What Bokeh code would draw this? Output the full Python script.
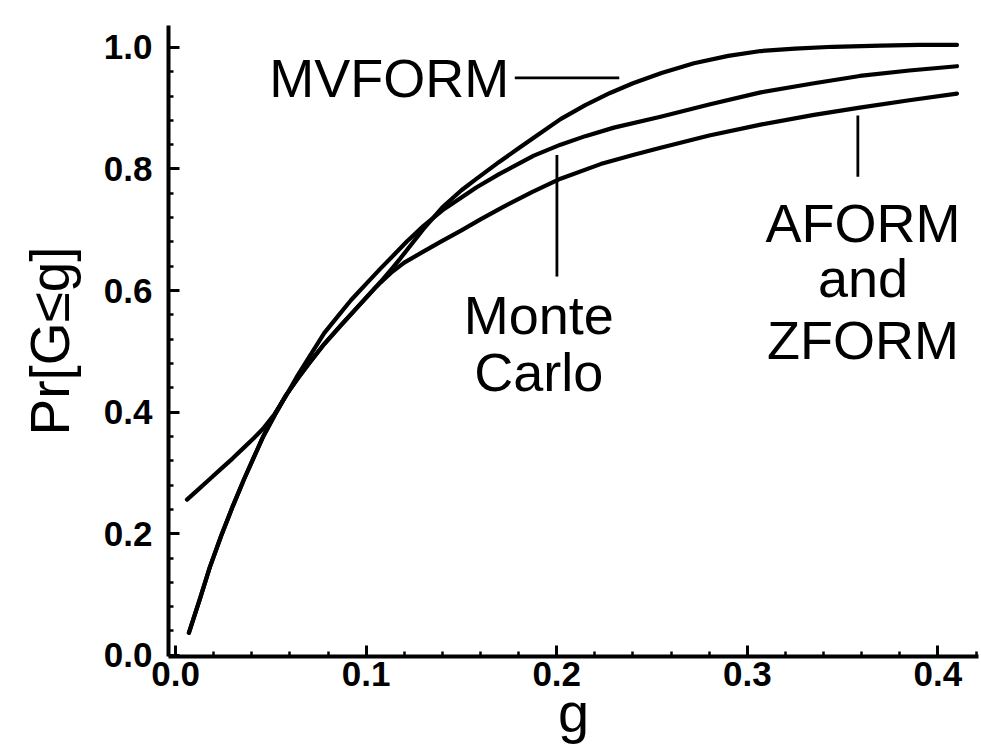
from bokeh.plotting import figure
from bokeh.models import FixedTicker, Range1d, Label, NumeralTickFormatter
from bokeh.embed import file_html
from bokeh.resources import INLINE

# ---- data ----
g_mvform = [0.007, 0.013, 0.018, 0.024, 0.030, 0.036, 0.041, 0.046, 0.052, 0.058,
            0.064, 0.070, 0.078, 0.0865, 0.095, 0.104, 0.1075, 0.113, 0.118, 0.124,
            0.130, 0.140, 0.150, 0.158, 0.170, 0.180, 0.190, 0.202, 0.215, 0.228,
            0.240, 0.255, 0.272, 0.290, 0.307, 0.325, 0.345, 0.370, 0.390, 0.410]
pr_mvform = [0.037, 0.095, 0.145, 0.197, 0.245, 0.290, 0.325, 0.360, 0.395, 0.428,
             0.455, 0.480, 0.512, 0.542, 0.571, 0.602, 0.614, 0.634, 0.653, 0.677,
             0.701, 0.737, 0.765, 0.784, 0.812, 0.834, 0.856, 0.882, 0.905, 0.925,
             0.941, 0.958, 0.974, 0.986, 0.994, 0.998, 1.001, 1.003, 1.004, 1.004]

g_mc = [0.006, 0.012, 0.018, 0.024, 0.030, 0.036, 0.041, 0.046, 0.052, 0.058,
        0.064, 0.070, 0.078, 0.085, 0.092, 0.100, 0.1075, 0.115, 0.1215, 0.130,
        0.140, 0.150, 0.158, 0.170, 0.188, 0.202, 0.215, 0.230, 0.2545, 0.280,
        0.307, 0.335, 0.359, 0.385, 0.410]
pr_mc = [0.256, 0.273, 0.290, 0.307, 0.324, 0.342, 0.357, 0.373, 0.397, 0.427,
         0.460, 0.490, 0.530, 0.557, 0.584, 0.611, 0.636, 0.660, 0.681, 0.706,
         0.732, 0.753, 0.770, 0.792, 0.822, 0.840, 0.854, 0.868, 0.886, 0.906,
         0.926, 0.941, 0.953, 0.962, 0.969]

g_aform = [0.007, 0.013, 0.018, 0.024, 0.030, 0.036, 0.041, 0.046, 0.052, 0.058,
           0.064, 0.070, 0.078, 0.0865, 0.095, 0.104, 0.1075, 0.113, 0.120, 0.130,
           0.139, 0.150, 0.160, 0.171, 0.187, 0.202, 0.223, 0.240, 0.2545, 0.280,
           0.307, 0.335, 0.359, 0.385, 0.410]
pr_aform = [0.037, 0.095, 0.145, 0.197, 0.245, 0.290, 0.325, 0.360, 0.395, 0.428,
            0.455, 0.480, 0.512, 0.542, 0.571, 0.602, 0.613, 0.629, 0.646, 0.664,
            0.680, 0.699, 0.717, 0.736, 0.762, 0.784, 0.808, 0.823, 0.835, 0.855,
            0.873, 0.889, 0.901, 0.913, 0.924]

x_ticks = [0.0, 0.1, 0.2, 0.3, 0.4]
x_minor = [0.02, 0.04, 0.06, 0.08, 0.12, 0.14, 0.16, 0.18, 0.22, 0.24, 0.26, 0.28,
           0.32, 0.34, 0.36, 0.38, 0.42]
y_ticks = [0.0, 0.2, 0.4, 0.6, 0.8, 1.0]
y_minor = [0.04, 0.08, 0.12, 0.16, 0.24, 0.28, 0.32, 0.36, 0.44, 0.48, 0.52, 0.56,
           0.64, 0.68, 0.72, 0.76, 0.84, 0.88, 0.92, 0.96]

# annotation texts and pointer positions (data units)
label_texts = ["MVFORM", "Monte", "Carlo", "AFORM", "and", "ZFORM"]
label_x = [0.1751, 0.1906, 0.1906, 0.3607, 0.3607, 0.3607]
label_y = [0.949, 0.560, 0.466, 0.711, 0.621, 0.519]
label_align = ["right", "center", "center", "center", "center", "center"]
pointer_x0 = [0.178, 0.2001, 0.358]
pointer_y0 = [0.950, 0.823, 0.888]
pointer_x1 = [0.2328, 0.2001, 0.358]
pointer_y1 = [0.950, 0.623, 0.787]

FONT = "Liberation Sans"

p = figure(width=980, height=752, output_backend="svg", toolbar_location=None,
           x_range=Range1d(-0.0037, 0.4213), y_range=Range1d(-0.002, 1.036),
           min_border_left=168, min_border_right=2, min_border_top=25,
           min_border_bottom=96, x_axis_label="g", y_axis_label="Pr[G≤g]")
p.outline_line_color = None
p.grid.visible = False
p.background_fill_color = "white"
p.border_fill_color = "white"

for gx, py in [(g_mvform, pr_mvform), (g_mc, pr_mc), (g_aform, pr_aform)]:
    p.line(gx, py, line_color="black", line_width=4.2, line_join="round", line_cap="round")

p.segment(x0=pointer_x0, y0=pointer_y0, x1=pointer_x1, y1=pointer_y1,
          line_color="black", line_width=2.8)

for t, x, y, a in zip(label_texts, label_x, label_y, label_align):
    p.add_layout(Label(x=x, y=y, text=t, text_align=a, text_baseline="alphabetic",
                       text_font=FONT, text_font_size="54px", text_color="black"))

p.xaxis.ticker = FixedTicker(ticks=x_ticks, minor_ticks=x_minor)
p.yaxis.ticker = FixedTicker(ticks=y_ticks, minor_ticks=y_minor)
for ax in (p.xaxis[0], p.yaxis[0]):
    ax.formatter = NumeralTickFormatter(format="0.0")
    ax.axis_line_width = 4
    ax.axis_line_color = "black"
    ax.major_tick_in = 11
    ax.major_tick_out = 0
    ax.minor_tick_in = 5
    ax.minor_tick_out = 0
    ax.major_tick_line_width = 3
    ax.minor_tick_line_width = 2.5
    ax.major_tick_line_color = "black"
    ax.minor_tick_line_color = "black"
    ax.major_label_text_font = FONT
    ax.major_label_text_font_style = "bold"
    ax.major_label_text_font_size = "35px"
    ax.major_label_text_color = "black"
    ax.axis_label_text_font = FONT
    ax.axis_label_text_font_style = "normal"
    ax.axis_label_text_color = "black"

p.xaxis.axis_label_text_font_size = "56px"
p.yaxis.axis_label_text_font_size = "55px"
p.xaxis.major_label_standoff = 5
p.xaxis.axis_label_standoff = -8
p.yaxis.major_label_standoff = 16
p.yaxis.axis_label_standoff = 20

open("out.html", "w").write(file_html(p, INLINE))
